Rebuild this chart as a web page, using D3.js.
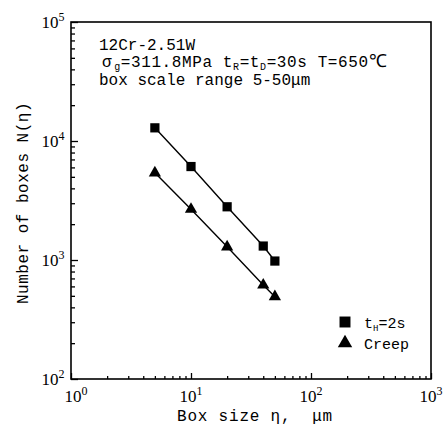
<!DOCTYPE html>
<html>
<style>
  body { margin: 0; background: #fff; overflow: hidden; }
  text { fill: #000; }
  .mono { font-family: "Liberation Mono", "DejaVu Sans Mono", monospace; }
  .serif { font-family: "Liberation Serif", "DejaVu Serif", serif; }
</style>
<script src="https://cdnjs.cloudflare.com/ajax/libs/d3/7.8.5/d3.min.js"></script>
<svg id="chart"></svg>
<script>
// box counting data
var boxSize = [5, 10, 20, 40, 50];
var heatN   = [12900, 6100, 2800, 1310, 980];   // t_H = 2s
var creepN  = [5400, 2670, 1290, 617, 492];     // creep
var xMajor = [1, 10, 100, 1000];
var yMajor = [100, 1000, 10000, 100000];
var xExp = ["0", "1", "2", "3"];
var yExp = ["2", "3", "4", "5"];

var width = 443, height = 428;
var pLeft = 71, pRight = 431, pTop = 22, pBottom = 379;

var svg = d3.select("#chart")
    .attr("width", width)
    .attr("height", height);

var x = d3.scaleLog().domain([1, 1000]).range([pLeft, pRight]),
    y = d3.scaleLog().domain([100, 100000]).range([pBottom, pTop]);

function minors(lo, hi) {
  var out = [];
  for (var p = lo; p < hi; p *= 10)
    for (var k = 2; k <= 9; k++) out.push(p * k);
  return out;
}

// minor ticks, pointing inwards
svg.append("g")
    .attr("transform", "translate(0," + pBottom + ")")
    .call(d3.axisBottom(x).tickValues(minors(1, 1000)).tickSize(-3).tickFormat(""))
    .call(function(g) { g.select(".domain").remove(); });

svg.append("g")
    .attr("transform", "translate(" + pLeft + ",0)")
    .call(d3.axisLeft(y).tickValues(minors(100, 100000)).tickSize(-4).tickFormat(""))
    .call(function(g) { g.select(".domain").remove(); });

// major ticks
svg.append("g")
    .attr("transform", "translate(0," + pBottom + ")")
    .call(d3.axisBottom(x).tickValues(xMajor).tickSize(-6).tickFormat(""))
    .call(function(g) { g.select(".domain").remove(); });

svg.append("g")
    .attr("transform", "translate(" + pLeft + ",0)")
    .call(d3.axisLeft(y).tickValues(yMajor).tickSize(-7).tickFormat(""))
    .call(function(g) { g.select(".domain").remove(); });

svg.selectAll(".tick line").attr("stroke", "#000").attr("stroke-width", 1.3);

// frame
svg.append("rect")
    .attr("x", pLeft).attr("y", pTop)
    .attr("width", pRight - pLeft).attr("height", pBottom - pTop)
    .attr("fill", "none")
    .attr("stroke", "#000")
    .attr("stroke-width", 1.6);

// tick labels 10^n
svg.selectAll(".xlab")
    .data(xMajor)
  .enter().append("text")
    .attr("class", "serif")
    .attr("x", function(d) { return x(d) + (d === 1 ? 5 : 0); })
    .attr("y", pBottom + 23)
    .attr("text-anchor", "middle")
    .style("font-size", "17px")
    .each(function(d, i) {
      var t = d3.select(this);
      t.append("tspan").text("10");
      t.append("tspan").attr("dy", -7).style("font-size", "12px").text(xExp[i]);
    });

svg.selectAll(".ylab")
    .data(yMajor)
  .enter().append("text")
    .attr("class", "serif")
    .attr("x", pLeft - 18)
    .attr("y", function(d) { return y(d) + 6; })
    .attr("text-anchor", "middle")
    .style("font-size", "17px")
    .each(function(d, i) {
      var t = d3.select(this);
      t.append("tspan").text("10");
      t.append("tspan").attr("dy", -7).style("font-size", "12px").text(yExp[i]);
    });

// axis titles
svg.append("text")
    .attr("class", "mono")
    .attr("x", 255).attr("y", 421)
    .attr("text-anchor", "middle")
    .style("font-size", "16px")
    .style("letter-spacing", "0.8px")
    .attr("xml:space", "preserve")
    .text("Box size η,  μm");

svg.append("text")
    .attr("class", "mono")
    .attr("transform", "translate(28,203) rotate(-90)")
    .attr("text-anchor", "middle")
    .style("font-size", "16px")
    .style("letter-spacing", "0.5px")
    .text("Number of boxes N(η)");

// annotation
var note = svg.append("g").attr("class", "mono").style("font-size", "16px");
note.append("text").attr("x", 99).attr("y", 50).text("12Cr-2.51W");
var l2 = note.append("text").attr("x", 102).attr("y", 67).style("letter-spacing", "0.6px");
l2.append("tspan").text("σ");
l2.append("tspan").attr("dx", 2).attr("dy", 3).style("font-size", "10px").text("g");
l2.append("tspan").attr("dy", -3).text("=311.8MPa t");
l2.append("tspan").attr("dy", 3).style("font-size", "10px").text("R");
l2.append("tspan").attr("dy", -3).text("=t");
l2.append("tspan").attr("dy", 3).style("font-size", "10px").text("D");
l2.append("tspan").attr("dy", -3).text("=30s T=650");
l2.append("tspan").style("font-size", "18px").text("℃");
note.append("text").attr("x", 99).attr("y", 85).text("box scale range 5-50μm");

// series
var line = d3.line()
    .x(function(d) { return x(d[0]); })
    .y(function(d) { return y(d[1]); });

var heat = d3.zip(boxSize, heatN),
    creep = d3.zip(boxSize, creepN);

[heat, creep].forEach(function(s) {
  svg.append("path")
      .datum(s)
      .attr("d", line)
      .attr("fill", "none")
      .attr("stroke", "#000")
      .attr("stroke-width", 1.4);
});

var sq = d3.symbol().type(d3.symbolSquare).size(85),
    tri = d3.symbol().type(d3.symbolTriangle).size(65);

svg.selectAll(".sq")
    .data(heat)
  .enter().append("path")
    .attr("d", sq)
    .attr("transform", function(d) { return "translate(" + x(d[0]) + "," + y(d[1]) + ")"; });

svg.selectAll(".tri")
    .data(creep)
  .enter().append("path")
    .attr("d", tri)
    .attr("transform", function(d) { return "translate(" + x(d[0]) + "," + y(d[1]) + ")"; });

// legend
var lg = svg.append("g").attr("class", "mono").style("font-size", "15px");
lg.append("path").attr("d", d3.symbol().type(d3.symbolSquare).size(120)).attr("transform", "translate(345,322)");
lg.append("path").attr("d", d3.symbol().type(d3.symbolTriangle).size(90)).attr("transform", "translate(345,343)");
var lt = lg.append("text").attr("x", 364).attr("y", 328);
lt.append("tspan").text("t");
lt.append("tspan").attr("dy", 3).style("font-size", "9px").text("H");
lt.append("tspan").attr("dy", -3).text("=2s");
lg.append("text").attr("x", 364).attr("y", 349).text("Creep");
</script>
</html>
